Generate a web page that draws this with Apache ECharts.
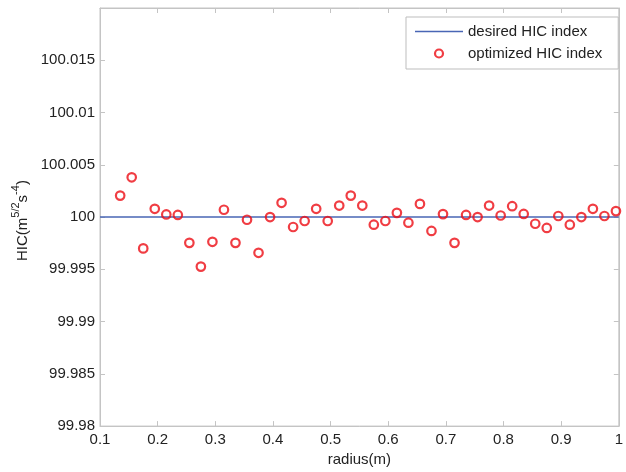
<!DOCTYPE html>
<html>
<head>
<meta charset="utf-8">
<script src="https://cdn.jsdelivr.net/npm/echarts@6/dist/echarts.min.js"></script>
<style>html,body{margin:0;padding:0;background:#fff}#c{width:626px;height:472px}</style>
</head>
<body>
<div id="c"></div>
<script>
// radius values (m)
const radius = [0.135,0.155,0.175,0.195,0.215,0.235,0.255,0.275,0.295,0.315,
  0.335,0.355,0.375,0.395,0.415,0.435,0.455,0.475,0.495,0.515,
  0.535,0.555,0.575,0.595,0.615,0.635,0.655,0.675,0.695,0.715,
  0.735,0.755,0.775,0.795,0.815,0.835,0.855,0.875,0.895,0.915,
  0.935,0.955,0.975,0.995];
// optimized HIC index
const hicOptimized = [100.00205,100.0038,99.9970,100.00079,100.00025,100.0002,99.99753,99.99526,99.99763,100.0007,
  99.99753,99.99974,99.99658,100.0000,100.00136,99.99905,99.99962,100.00079,99.99962,100.0011,
  100.00205,100.0011,99.99927,99.99962,100.0004,99.99946,100.00126,99.99867,100.00028,99.99753,
  100.0002,100.0000,100.0011,100.00015,100.00104,100.0003,99.99936,99.99896,100.0001,99.99927,
  100.0000,100.00079,100.0001,100.00057];
// desired HIC index (constant)
const desiredX = [0.1, 1];
const desiredHIC = [100, 100];
const xTicks = [0.1,0.2,0.3,0.4,0.5,0.6,0.7,0.8,0.9,1];
const yTicks = [99.98,99.985,99.99,99.995,100,100.005,100.01,100.015,100.02];

const font = 'Liberation Sans, Arial, Helvetica, sans-serif';
const axisGray = '#c4c4c4';
const txt = '#222';
const lineColor = '#4966b5';
const markerColor = '#ec0d14';
const chart = echarts.init(document.getElementById('c'), null, {renderer:'canvas'});
chart.setOption({
  animation: false,
  backgroundColor: '#fff',
  grid: {left: 100, right: 2, top: 8, bottom: 43, show: true, borderColor: axisGray, borderWidth: 1, containLabel: false},
  legend: {
    left: 406, top: 17, orient: 'vertical',
    backgroundColor: '#fff', borderColor: '#bdbdbd', borderWidth: 1,
    padding: [6, 16, 7, 9], itemGap: 5, itemWidth: 48, itemHeight: 8,
    textStyle: {fontFamily: font, fontSize: 15, color: txt, lineHeight: 17},
    data: [
      {name: 'desired HIC index', icon: 'path://M0,0L48,0L48,1.6L0,1.6Z', itemStyle: {color: lineColor, borderWidth: 0}},
      {name: 'optimized HIC index', icon: 'circle', itemStyle: {color: 'rgba(255,255,255,0)', borderColor: markerColor, borderWidth: 2.2}}
    ]
  },
  xAxis: [{
    type: 'value', min: xTicks[0], max: xTicks[xTicks.length-1], interval: 0.1,
    name: 'radius(m)', nameLocation: 'middle', nameGap: 25,
    nameTextStyle: {fontFamily: font, fontSize: 15, color: txt},
    axisLine: {show: true, lineStyle: {color: axisGray}},
    axisTick: {show: true, inside: true, length: 5, lineStyle: {color: axisGray}},
    axisLabel: {fontFamily: font, fontSize: 15, color: txt, margin: 6},
    splitLine: {show: false}
  }, {
    type: 'value', position: 'top', min: xTicks[0], max: xTicks[xTicks.length-1], interval: 0.1,
    axisLine: {show: true, lineStyle: {color: axisGray}},
    axisTick: {show: true, inside: true, length: 5, lineStyle: {color: axisGray}},
    axisLabel: {show: false}, splitLine: {show: false}
  }],
  yAxis: [{
    type: 'value', min: yTicks[0], max: yTicks[yTicks.length-1], interval: 0.005,
    name: '{n|HIC(m}{s|5/2}{n|s}{s|-4}{n|)}', nameLocation: 'middle', nameGap: 68, nameRotate: 90,
    nameTextStyle: {
      padding: [0, 7, 0, 0],
      rich: {
        n: {fontFamily: font, fontSize: 15, color: txt, lineHeight: 20, verticalAlign: 'bottom'},
        s: {fontFamily: font, fontSize: 11, color: txt, lineHeight: 20, verticalAlign: 'bottom', padding: [0, 0, 8, 0]}
      }
    },
    axisLine: {show: true, lineStyle: {color: axisGray}},
    axisTick: {show: true, inside: true, length: 5, lineStyle: {color: axisGray}},
    axisLabel: {fontFamily: font, fontSize: 15, color: txt, margin: 5, showMaxLabel: false},
    splitLine: {show: false}
  }, {
    type: 'value', position: 'right', min: yTicks[0], max: yTicks[yTicks.length-1], interval: 0.005,
    axisLine: {show: true, lineStyle: {color: axisGray}},
    axisTick: {show: true, inside: true, length: 5, lineStyle: {color: axisGray}},
    axisLabel: {show: false}, splitLine: {show: false}
  }],
  series: [{
    name: 'desired HIC index', type: 'line', symbol: 'none',
    data: desiredX.map((x, i) => [x, desiredHIC[i]]),
    lineStyle: {color: lineColor, width: 1.6},
    itemStyle: {color: lineColor}, z: 2
  }, {
    name: 'optimized HIC index', type: 'scatter', symbol: 'circle', symbolSize: 8.5,
    data: radius.map((x, i) => [x, hicOptimized[i]]),
    itemStyle: {color: 'rgba(255,255,255,0)', borderColor: markerColor, borderWidth: 2.2},
    z: 3
  }]
});
</script>
</body>
</html>
